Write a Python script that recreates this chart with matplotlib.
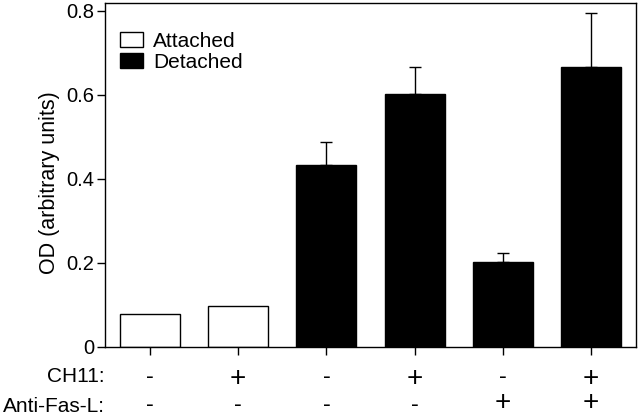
import matplotlib
matplotlib.use("Agg")
import matplotlib.pyplot as plt
from matplotlib.patches import Patch

plt.rcParams['font.family'] = ['Liberation Sans', 'DejaVu Sans']

values = [0.079, 0.098, 0.433, 0.602, 0.202, 0.667]
errors = [0.0, 0.0, 0.055, 0.065, 0.022, 0.128]
states = ['Attached', 'Attached', 'Detached', 'Detached', 'Detached', 'Detached']
ch11 = ['-', '+', '-', '+', '-', '+']
antifasl = ['-', '-', '-', '-', '+', '+']
yticks = [0, 0.2, 0.4, 0.6, 0.8]
yticklabels = ['0', '0.2', '0.4', '0.6', '0.8']

W, H = 640, 417
ax_bottom_px, ax_top_px = 347, 3.3
ax_h_px = ax_bottom_px - ax_top_px

def ay(ypix):
    return (ax_bottom_px - ypix) / ax_h_px

fig = plt.figure(figsize=(6.4, 4.17), dpi=100)
ax = fig.add_axes([105/W, 1-ax_bottom_px/H, (636-105)/W, ax_h_px/H])

x = list(range(len(values)))
colors = ['white' if s == 'Attached' else 'black' for s in states]
ax.bar(x, values, width=0.68, color=colors, edgecolor='black', linewidth=1.0)
for xi, v, e in zip(x, values, errors):
    if e > 0:
        ax.errorbar([xi], [v], yerr=[[0], [e]], fmt='none', ecolor='black',
                    elinewidth=1.0, capsize=4, capthick=1.0)

ax.set_xlim(-0.51, 5.51)
ax.set_ylim(0, 0.818)
ax.set_yticks(yticks)
ax.set_yticklabels(yticklabels, fontsize=14.5)
ax.set_xticks(x)
ax.set_xticklabels([])
ax.tick_params(axis='both', direction='out', length=6, width=1)
ax.tick_params(axis='y', pad=2)
for sp in ax.spines.values():
    sp.set_linewidth(1.0)
fig.text(50/W, 1-183/H, 'OD (arbitrary units)', rotation=90, fontsize=15.5,
         ha='center', va='center')

trans = ax.get_xaxis_transform()
for xi, a, b in zip(x, ch11, antifasl):
    if a == '+':
        ax.text(xi, ay(386), a, transform=trans, ha='center', va='baseline', fontsize=20)
    else:
        ax.text(xi, ay(383.5), a, transform=trans, ha='center', va='baseline', fontsize=17)
    ax.text(xi, ay(416.5), b, transform=trans, ha='center', va='bottom',
            fontsize=20 if b == '+' else 17)
ax.text(-0.515, ay(382), 'CH11:', transform=trans, ha='right', va='baseline', fontsize=15)
ax.text(-0.515, ay(416.5), 'Anti-Fas-L:', transform=trans, ha='right', va='bottom', fontsize=15)

handles = [Patch(facecolor='white', edgecolor='black', label='Attached'),
           Patch(facecolor='black', edgecolor='black', label='Detached')]
ax.legend(handles=handles, loc='upper left', bbox_to_anchor=(0.028, 0.916),
          frameon=False, fontsize=15, handlelength=1.1, handleheight=0.72,
          handletextpad=0.48, labelspacing=0.08, borderpad=0, borderaxespad=0)

fig.savefig('out.png', dpi=100)
